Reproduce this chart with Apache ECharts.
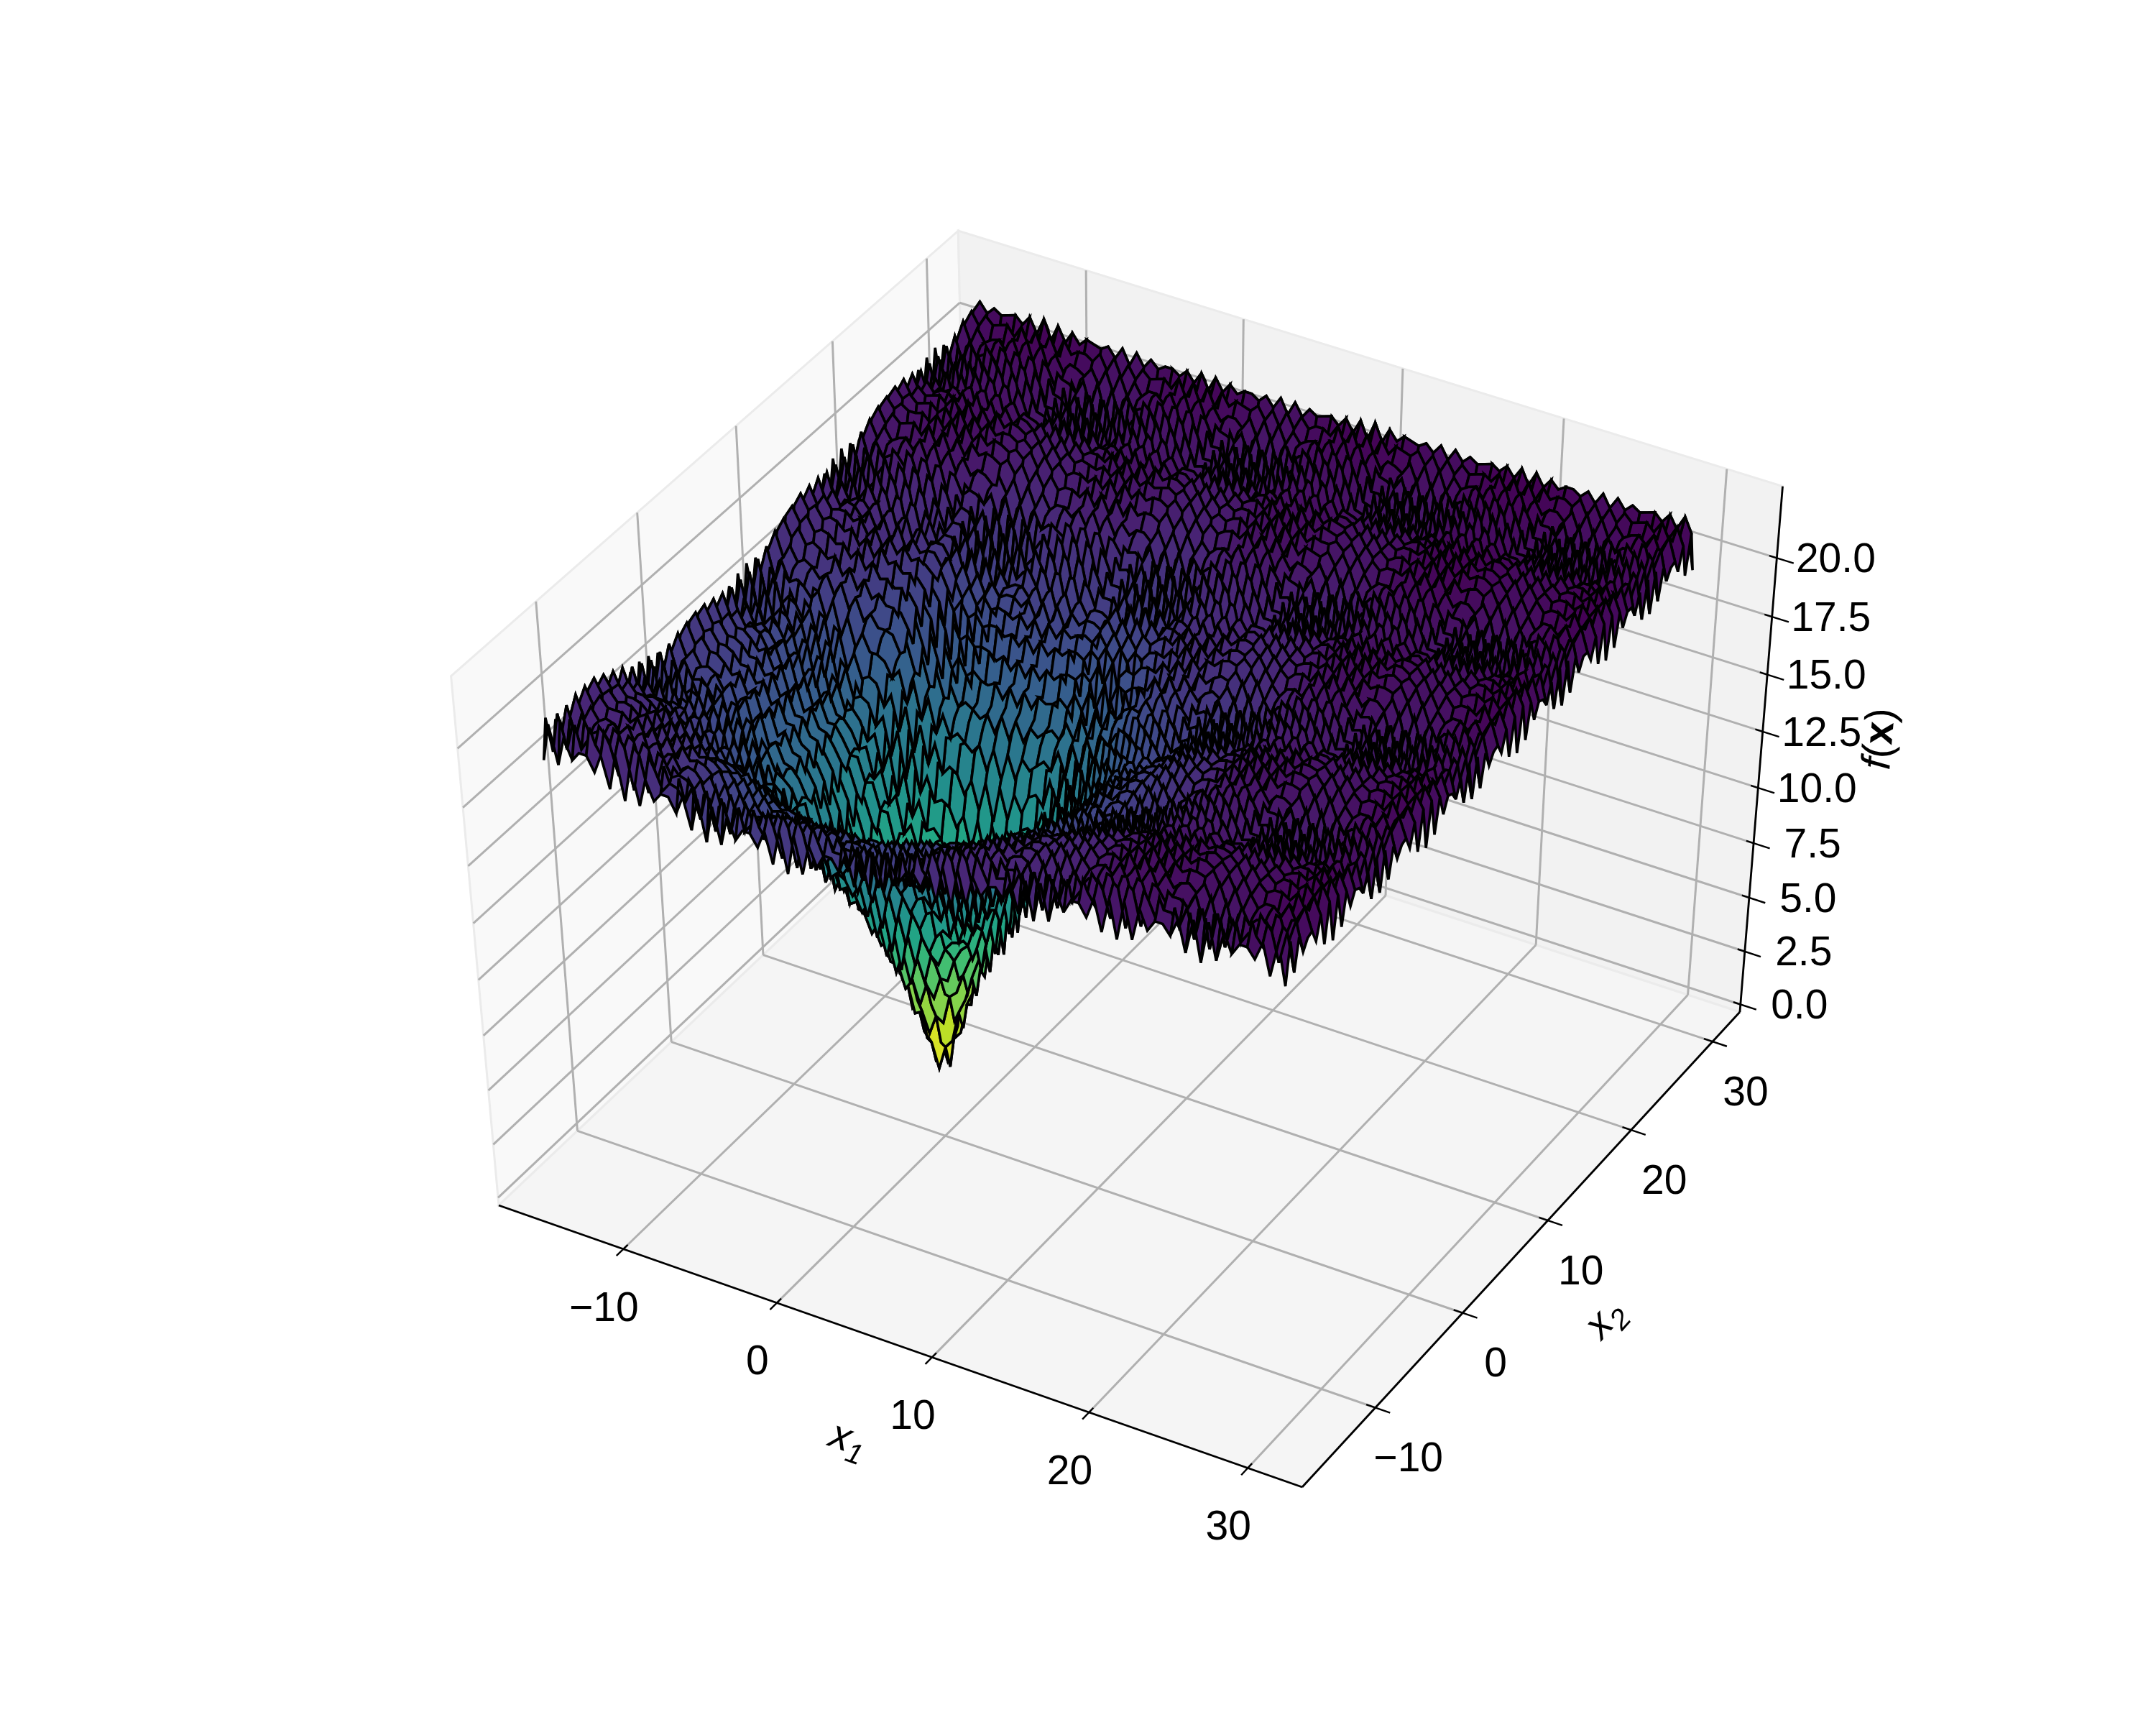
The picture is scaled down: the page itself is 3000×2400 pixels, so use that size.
<!DOCTYPE html>
<html>
<head>
<meta charset="utf-8">
<title>f(x) surface</title>
<style>
  html, body { margin: 0; padding: 0; background: #fff; }
  #main { width: 3000px; height: 2400px; }
</style>
<script src="https://cdn.jsdelivr.net/npm/echarts@6/dist/echarts.min.js"></script>
</head>
<body>
<div id="main"></div>
<script>
var x1Ticks = [-10, 0, 10, 20, 30];
var x2Ticks = [-10, 0, 10, 20, 30];
var zTicks = [0, 2.5, 5, 7.5, 10, 12.5, 15, 17.5, 20];
var x1Range = [-18.2, 33.4];
var x2Range = [-18.2, 33.4];
var zRange = [-0.36, 23];
var viridisStops = ['#440154', '#482475', '#414487', '#355f8d', '#2a788e', '#21918c', '#22a884', '#44bf70', '#7ad151', '#bddf26', '#fde725'];

// sample positions, same on both axes
var gridValues = [
  -15,-14.55,-14.09,-13.64,-13.18,-12.73,-12.27,-11.82,-11.36,-10.91,-10.45,
  -10,-9.55,-9.09,-8.64,-8.18,-7.73,-7.27,-6.82,-6.36,-5.91,-5.45,
  -5,-4.55,-4.09,-3.64,-3.18,-2.73,-2.27,-1.82,-1.36,-0.91,-0.45,
  0,0.45,0.91,1.36,1.82,2.27,2.73,3.18,3.64,4.09,4.55,
  5,5.45,5.91,6.36,6.82,7.27,7.73,8.18,8.64,9.09,9.55,
  10,10.45,10.91,11.36,11.82,12.27,12.73,13.18,13.64,14.09,14.55,
  15,15.45,15.91,16.36,16.82,17.27,17.73,18.18,18.64,19.09,19.55,
  20,20.45,20.91,21.36,21.82,22.27,22.73,23.18,23.64,24.09,24.55,
  25,25.45,25.91,26.36,26.82,27.27,27.73,28.18,28.64,29.09,29.55,
  30
];

// even i: every j from i to 99. odd i: the even j above i, then j = 99.
var fTenths = [
/*0*/[190,206,190,202,194,198,198,192,200,187,202,
184,200,184,196,188,192,192,186,194,181,195,
178,194,179,192,183,188,188,183,191,178,193,
176,193,178,191,183,189,189,184,193,180,195,
179,196,182,195,188,193,194,189,198,185,201,
185,202,188,201,194,199,200,196,204,192,207,
191,208,193,207,199,205,205,200,209,196,211,
195,212,197,211,203,208,208,204,212,199,214,
197,215,200,213,205,210,210,206,214,201,216,
199],
/*1*/[207,207,208,208,208,206,204,202,199,197,
195,195,195,196,197,198,198,197,196,195,195,
195,197,199,202,204,206,208,208,208,207,207,
207,209,211,213,215,216,217,217,216,214,214,
214,215,216,219,220,221,
216],
/*2*/[193,204,195,200,199,194,201,189,202,
185,201,186,197,189,193,192,187,194,182,195,
179,194,180,191,183,187,187,182,189,177,191,
175,191,177,189,181,187,187,182,190,179,193,
178,194,181,193,186,192,192,188,197,185,200,
185,202,188,201,194,199,200,196,204,193,207,
192,208,195,207,200,205,206,201,209,198,212,
196,213,199,211,204,209,209,204,213,201,215,
199,215,202,214,206,211,211,207,215,203,217,
201],
/*3*/[205,205,206,205,204,202,198,195,191,
188,188,190,191,193,193,193,193,191,190,188,
190,191,195,198,202,204,205,206,205,205,204,
205,206,209,212,214,215,216,216,215,213,212,
212,213,215,218,220,220,
214],
/*4*/[198,200,200,196,202,191,201,
188,200,188,198,191,193,192,189,194,183,193,
180,192,180,190,183,186,185,182,188,178,188,
176,188,178,188,182,185,185,182,189,179,190,
179,192,181,192,187,191,192,189,196,187,198,
188,200,190,201,196,199,200,198,205,195,207,
196,208,198,208,203,207,207,205,211,201,213,
201,213,203,213,208,211,211,208,215,205,216,
204,216,205,216,210,213,213,211,217,207,218,
206],
/*5*/[202,202,202,200,198,194,189,185,
183,183,184,186,188,188,188,188,186,184,183,
183,185,189,194,198,200,202,202,202,200,200,
200,203,205,209,212,213,214,214,213,210,208,
208,210,212,215,218,219,
210],
/*6*/[201,197,202,194,201,
191,199,190,196,190,193,192,188,192,184,191,
181,189,181,187,182,184,184,181,185,178,186,
177,186,178,185,180,184,184,181,186,180,189,
181,190,183,191,187,191,192,190,196,190,199,
191,201,194,202,198,201,202,200,206,200,208,
200,210,202,210,206,209,210,207,213,206,214,
205,215,207,215,210,213,214,211,216,209,218,
209,218,210,218,213,216,216,213,219,212,220,
211],
/*7*/[199,198,196,193,188,183,177,
174,174,176,178,181,182,182,181,178,176,174,
174,177,183,188,193,196,198,199,197,196,193,
194,196,202,206,209,211,212,212,209,207,203,
203,204,209,212,215,217,
205],
/*8*/[202,195,200,
192,198,191,196,191,192,191,188,191,184,189,
181,187,180,186,181,182,182,179,183,177,182,
175,182,177,183,179,181,181,180,184,179,186,
180,188,183,190,187,190,191,190,195,190,197,
192,200,194,201,198,201,202,201,206,201,208,
202,209,204,211,207,210,211,209,214,208,215,
208,215,210,216,213,215,215,214,218,212,218,
212,219,213,219,216,218,218,216,220,214,221,
214],
/*9*/[194,192,188,183,176,170,
166,165,168,172,175,176,176,175,172,168,165,
166,170,176,183,188,192,194,195,194,190,188,
188,191,197,203,207,210,210,209,207,202,199,
197,200,204,210,213,215,
200],
/*10*/[198,
191,196,190,193,189,190,189,186,187,182,186,
179,184,178,181,178,179,178,176,178,174,178,
172,178,174,178,175,178,178,176,180,177,183,
178,185,181,186,185,188,189,188,192,189,196,
191,198,194,199,197,200,201,200,204,201,207,
202,209,205,210,207,210,211,209,213,210,215,
209,216,211,216,213,216,216,214,218,214,219,
213,220,215,219,216,219,219,217,220,216,222,
216],
/*11*/[189,184,179,171,163,
160,159,162,165,167,169,169,167,165,162,159,
160,163,171,179,184,189,191,192,191,188,185,
184,188,195,201,205,208,209,208,206,201,197,
195,198,203,209,212,214,
198],
/*12*/[193,187,190,185,186,185,182,183,178,182,
174,179,173,176,172,173,173,170,172,167,172,
165,172,167,172,169,172,173,171,175,172,178,
174,181,177,182,180,184,185,184,189,187,193,
189,196,192,197,196,199,200,199,203,200,206,
201,208,204,209,207,209,210,209,212,209,215,
209,215,211,215,213,215,216,214,217,214,219,
213,219,215,219,216,218,219,217,220,216,221,
215],
/*13*/[182,176,168,162,
157,156,157,160,161,163,163,161,160,157,156,
157,162,168,176,182,187,190,191,190,187,186,
186,189,195,202,206,209,210,209,206,202,199,
197,199,204,209,213,215,
200],
/*14*/[186,181,181,180,177,179,172,176,
167,172,164,169,163,164,163,160,164,157,163,
156,163,158,164,161,164,165,164,169,164,172,
167,175,170,178,175,179,180,180,185,181,188,
183,192,187,195,192,195,197,196,201,196,203,
198,206,201,208,205,208,209,207,212,207,213,
206,214,209,215,212,214,214,213,217,211,218,
211,218,212,219,215,217,217,215,220,214,220,
213],
/*15*/[175,168,160,
155,153,155,155,156,156,156,156,155,155,153,
155,160,168,175,181,185,188,190,190,190,188,
189,192,198,203,208,209,210,210,208,206,202,
202,203,208,211,215,216,
205],
/*16*/[176,174,169,172,163,169,
157,164,154,160,153,155,154,150,155,147,154,
145,155,147,155,151,155,156,154,160,155,164,
157,168,162,171,168,173,175,174,181,176,186,
179,189,183,192,188,192,194,192,198,192,202,
194,204,197,205,201,205,206,204,210,203,212,
203,212,205,213,208,212,212,209,215,208,216,
207,217,209,216,212,215,215,212,217,211,219,
210],
/*17*/[166,160,
155,151,150,150,150,150,150,150,150,150,151,
155,160,166,174,180,185,188,190,192,192,192,
194,196,200,205,209,211,212,212,211,208,207,
207,208,211,214,217,218,
209],
/*18*/[161,165,152,161,
146,156,143,151,143,145,143,139,144,133,143,
131,144,133,144,139,144,145,143,151,143,156,
146,160,151,163,160,165,167,166,174,166,180,
170,184,175,187,183,187,189,187,195,186,198,
188,201,191,202,197,201,202,200,207,198,209,
198,210,200,210,205,208,209,206,213,203,214,
202,215,204,214,208,212,212,209,215,205,217,
205],
/*19*/[157,
151,147,145,144,143,141,141,143,144,145,147,
151,157,164,172,179,182,186,190,192,193,194,
195,198,202,206,210,211,212,213,212,211,210,
210,211,214,216,219,219,
212],
/*20*/[142,154,
135,148,132,142,131,134,132,126,132,119,132,
116,133,120,133,127,134,136,132,142,132,148,
135,153,142,157,151,158,161,158,169,159,177,
163,181,169,183,177,184,186,182,192,181,196,
182,199,186,199,192,199,200,196,205,193,208,
192,209,195,208,201,206,207,202,210,199,213,
197,213,200,212,204,209,210,205,213,201,215,
199],
/*21*/[147,142,137,135,132,131,131,132,135,137,142,
147,154,161,169,176,182,186,188,191,193,194,
196,200,203,207,210,212,213,213,213,212,212,
211,213,215,217,219,220,
214],
/*22*/[127,141,123,133,122,124,122,115,121,106,119,
102,120,107,122,116,124,126,123,134,123,141,
127,147,135,151,146,154,157,155,165,155,174,
160,179,166,181,175,182,184,180,190,179,195,
179,197,183,198,191,197,198,194,203,191,206,
190,207,193,207,199,205,205,201,209,197,212,
195,212,198,211,203,208,209,204,212,199,214,
198],
/*23*/[135,128,124,120,119,119,120,124,128,135,
141,148,156,165,172,179,184,187,189,191,193,
196,199,202,206,209,212,213,213,213,212,212,
211,213,214,217,218,220,
214],
/*24*/[116,124,112,114,110,102,108,94,107,
90,107,94,108,102,110,114,112,124,116,135,
123,142,132,147,142,151,154,152,163,155,172,
159,178,166,180,174,181,184,180,190,180,195,
180,197,185,198,191,197,198,194,203,192,207,
191,208,195,207,200,205,206,201,210,198,213,
197,213,199,212,204,209,209,205,213,201,215,
200],
/*25*/[117,111,107,103,103,107,111,117,124,
131,142,151,160,169,175,181,185,187,189,191,
193,197,201,205,209,211,212,213,212,211,210,
209,211,213,216,218,219,
212],
/*26*/[106,105,101,93,96,83,93,
80,93,83,96,93,101,105,106,117,112,128,
121,137,130,144,142,149,152,153,162,156,171,
162,176,168,180,176,182,184,183,191,183,195,
185,198,188,199,194,198,199,197,204,195,207,
196,209,198,209,203,207,207,205,211,202,213,
201,214,203,214,208,211,211,209,215,205,216,
205],
/*27*/[97,90,86,86,90,97,105,114,
123,134,145,155,165,172,178,182,184,185,187,
189,193,197,202,206,209,211,211,210,208,207,
206,208,210,214,216,218,
209],
/*28*/[92,82,82,72,77,
67,77,72,82,82,92,98,101,111,110,124,
121,135,132,143,142,149,153,154,162,159,171,
166,178,172,181,178,184,186,185,192,187,196,
189,199,192,200,196,200,202,200,206,200,209,
201,210,203,211,206,210,210,208,213,206,215,
206,216,208,215,211,214,214,211,217,210,218,
210],
/*29*/[73,66,66,73,82,93,102,
113,124,139,150,161,168,175,179,181,181,181,
183,187,194,199,204,207,209,209,207,205,202,
201,203,207,211,214,216,
204],
/*30*/[70,57,59,
50,59,57,70,73,82,90,96,107,108,120,
119,132,131,142,143,149,153,155,163,161,171,
167,177,174,182,181,185,187,187,193,189,197,
191,200,195,202,199,202,203,203,208,203,210,
204,211,206,213,209,212,212,211,215,209,216,
209,217,211,217,214,216,216,214,219,213,219,
213],
/*31*/[45,45,57,72,84,94,
105,119,133,146,157,166,173,177,178,177,177,
178,183,190,197,202,206,208,207,205,201,198,
196,199,203,209,212,215,
199],
/*32*/[41,
30,41,45,59,66,77,86,93,104,107,119,
119,132,132,141,143,150,154,156,163,163,171,
169,178,176,182,182,186,188,188,193,191,198,
193,201,197,202,200,203,204,204,208,205,211,
206,212,208,213,210,213,213,212,215,211,217,
211,218,213,217,215,217,217,215,219,215,220,
215],
/*33*/[30,50,67,80,90,
102,116,131,145,156,165,172,175,177,176,175,
176,181,189,196,201,205,207,206,204,200,196,
194,197,202,208,211,214,
197],
/*34*/[41,45,59,66,77,86,93,104,107,119,
119,132,132,141,143,150,154,156,163,163,171,
169,178,176,182,182,186,188,188,193,191,198,
193,201,197,202,200,203,204,204,208,205,211,
206,212,208,213,210,213,213,212,215,211,217,
211,218,213,217,215,217,217,215,219,215,220,
215],
/*35*/[57,72,84,94,
105,119,133,146,157,166,173,177,178,177,177,
178,183,190,197,202,206,208,207,205,201,198,
196,199,203,209,212,215,
199],
/*36*/[70,73,82,90,96,107,108,120,
119,132,131,142,143,149,153,155,163,161,171,
167,177,174,182,181,185,187,187,193,189,197,
191,200,195,202,199,202,203,203,208,203,210,
204,211,206,213,209,212,212,211,215,209,216,
209,217,211,217,214,216,216,214,219,213,219,
213],
/*37*/[82,93,102,
113,124,139,150,161,168,175,179,181,181,181,
183,187,194,199,204,207,209,209,207,205,202,
201,203,207,211,214,216,
204],
/*38*/[92,98,101,111,110,124,
121,135,132,143,142,149,153,154,162,159,171,
166,178,172,181,178,184,186,185,192,187,196,
189,199,192,200,196,200,202,200,206,200,209,
201,210,203,211,206,210,210,208,213,206,215,
206,216,208,215,211,214,214,211,217,210,218,
210],
/*39*/[105,114,
123,134,145,155,165,172,178,182,184,185,187,
189,193,197,202,206,209,211,211,210,208,207,
206,208,210,214,216,218,
209],
/*40*/[106,117,112,128,
121,137,130,144,142,149,152,153,162,156,171,
162,176,168,180,176,182,184,183,191,183,195,
185,198,188,199,194,198,199,197,204,195,207,
196,209,198,209,203,207,207,205,211,202,213,
201,214,203,214,208,211,211,209,215,205,216,
205],
/*41*/[124,
131,142,151,160,169,175,181,185,187,189,191,
193,197,201,205,209,211,212,213,212,211,210,
209,211,213,216,218,219,
212],
/*42*/[116,135,
123,142,132,147,142,151,154,152,163,155,172,
159,178,166,180,174,181,184,180,190,180,195,
180,197,185,198,191,197,198,194,203,192,207,
191,208,195,207,200,205,206,201,210,198,213,
197,213,199,212,204,209,209,205,213,201,215,
200],
/*43*/[141,148,156,165,172,179,184,187,189,191,193,
196,199,202,206,209,212,213,213,213,212,212,
211,213,214,217,218,220,
214],
/*44*/[127,148,135,151,146,155,157,155,167,157,174,
160,179,166,181,175,182,184,180,190,179,195,
179,197,183,198,191,197,198,194,203,191,206,
190,207,193,207,199,205,205,201,209,197,212,
195,212,198,211,203,208,209,204,212,199,214,
198],
/*45*/[154,161,169,176,182,186,188,191,193,194,
196,200,203,207,210,212,213,213,213,212,212,
211,213,215,217,219,220,
214],
/*46*/[142,158,152,160,163,161,171,162,178,
163,181,169,183,177,184,186,182,192,181,196,
182,199,186,199,192,199,200,196,205,193,208,
192,209,195,208,201,206,207,202,210,199,213,
197,213,200,212,204,209,210,205,213,201,215,
199],
/*47*/[164,172,179,182,186,190,192,193,194,
195,198,202,206,210,211,212,213,212,211,210,
210,211,214,216,219,219,
212],
/*48*/[161,167,169,168,177,168,181,
170,184,175,187,183,187,189,187,195,186,198,
188,201,191,202,197,201,202,200,207,198,209,
198,210,200,210,205,208,209,206,213,203,214,
202,215,204,214,208,212,212,209,215,205,217,
205],
/*49*/[174,180,185,188,190,192,192,192,
194,196,200,205,209,211,212,212,211,208,207,
207,208,211,214,217,218,
209],
/*50*/[176,175,181,176,186,
179,189,183,192,188,192,194,192,198,192,202,
194,204,197,205,201,205,206,204,210,203,212,
203,212,205,213,208,212,212,209,215,208,216,
207,217,209,216,212,215,215,212,217,211,219,
210],
/*51*/[181,185,188,190,190,190,188,
189,192,198,203,208,209,210,210,208,206,202,
202,203,208,211,215,216,
205],
/*52*/[187,182,190,
183,192,187,195,192,195,197,196,201,196,203,
198,206,201,208,205,208,209,207,212,207,213,
206,214,209,215,212,214,214,213,217,211,218,
211,218,212,219,215,217,217,215,220,214,220,
213],
/*53*/[187,190,191,190,187,186,
186,189,195,202,206,209,210,209,206,202,199,
197,199,204,209,213,215,
200],
/*54*/[193,
189,196,192,197,196,199,200,199,203,200,206,
201,208,204,209,207,209,210,209,212,209,215,
209,215,211,215,213,215,216,214,217,214,219,
213,219,215,219,216,218,219,217,220,216,221,
215],
/*55*/[191,192,191,188,185,
184,188,195,201,205,208,209,208,206,201,197,
195,198,203,209,212,214,
198],
/*56*/[198,194,199,197,200,201,200,204,201,207,
202,209,205,210,207,210,211,209,213,210,215,
209,216,211,216,213,216,216,214,218,214,219,
213,220,215,219,216,219,219,217,220,216,222,
216],
/*57*/[195,194,190,188,
188,191,197,203,207,210,210,209,207,202,199,
197,200,204,210,213,215,
200],
/*58*/[201,198,201,202,201,206,201,208,
202,209,204,211,207,210,211,209,214,208,215,
208,215,210,216,213,215,215,214,218,212,218,
212,219,213,219,216,218,218,216,220,214,221,
214],
/*59*/[197,196,193,
194,196,202,206,209,211,212,212,209,207,203,
203,204,209,212,215,217,
205],
/*60*/[201,202,200,206,200,208,
200,210,202,210,206,209,210,207,213,206,214,
205,215,207,215,210,213,214,211,216,209,218,
209,218,210,218,213,216,216,213,219,212,220,
211],
/*61*/[200,200,
200,203,205,209,212,213,214,214,213,210,208,
208,210,212,215,218,219,
210],
/*62*/[198,205,195,207,
196,208,198,208,203,207,207,205,211,201,213,
201,213,203,213,208,211,211,208,215,205,216,
204,216,205,216,210,213,213,211,217,207,218,
206],
/*63*/[204,
205,206,209,212,214,215,216,216,215,213,212,
212,213,215,218,220,220,
214],
/*64*/[193,207,
192,208,195,207,200,205,206,201,209,198,212,
196,213,199,211,204,209,209,204,213,201,215,
199,215,202,214,206,211,211,207,215,203,217,
201],
/*65*/[207,209,211,213,215,216,217,217,216,214,214,
214,215,216,219,220,221,
216],
/*66*/[191,208,193,207,199,205,205,200,209,196,211,
195,212,197,211,203,208,208,204,212,199,214,
197,215,200,213,205,210,210,206,214,201,216,
199],
/*67*/[210,212,214,216,217,218,217,216,215,214,
214,215,216,219,220,221,
216],
/*68*/[196,208,201,206,206,202,210,198,213,
197,213,199,212,204,209,209,205,213,201,215,
199,215,202,214,206,211,211,206,215,203,217,
201],
/*69*/[211,214,216,217,217,217,216,214,212,
212,213,216,218,220,220,
214],
/*70*/[205,209,209,206,213,203,214,
202,215,204,214,208,212,212,209,215,205,216,
205,217,206,216,210,213,214,211,217,207,218,
206],
/*71*/[212,215,216,217,216,214,212,210,
209,210,213,216,218,219,
211],
/*72*/[212,210,215,208,217,
208,217,209,217,212,215,215,212,217,211,219,
210,219,211,218,213,217,217,214,219,212,220,
211],
/*73*/[214,215,216,215,212,209,205,
205,206,210,213,217,218,
206],
/*74*/[218,212,218,
212,219,213,219,215,217,218,216,220,214,220,
213,220,214,221,217,219,219,217,221,215,221,
214],
/*75*/[215,215,214,211,206,202,
200,202,207,212,215,217,
201],
/*76*/[220,
214,220,216,220,217,219,219,217,220,216,222,
216,222,217,221,218,220,220,218,221,217,222,
216],
/*77*/[215,213,210,205,200,
199,201,206,211,214,216,
199],
/*78*/[221,216,220,217,219,219,217,220,216,222,
216,222,217,221,218,220,220,218,221,217,222,
216],
/*79*/[215,212,207,203,
201,203,207,212,215,217,
201],
/*80*/[220,216,219,219,217,221,215,221,
214,221,215,221,217,219,219,217,221,215,221,
214],
/*81*/[214,211,207,
206,207,211,214,217,218,
206],
/*82*/[217,217,214,219,212,220,
211,220,212,219,214,217,217,214,219,212,220,
211],
/*83*/[214,212,
211,212,214,217,219,220,
211],
/*84*/[211,217,207,218,
206,218,207,217,211,214,214,211,217,207,218,
206],
/*85*/[215,
214,215,217,219,221,221,
214],
/*86*/[203,217,
201,217,203,215,207,212,212,207,215,203,217,
201],
/*87*/[216,217,218,220,221,222,
216],
/*88*/[200,217,202,215,207,212,212,207,215,202,217,
200],
/*89*/[217,218,220,221,222,
216],
/*90*/[204,216,208,213,213,208,216,204,218,
202],
/*91*/[217,219,221,221,
214],
/*92*/[212,215,215,212,218,208,219,
207],
/*93*/[217,219,220,
211],
/*94*/[218,215,220,213,221,
212],
/*95*/[217,218,
206],
/*96*/[222,216,222,
215],
/*97*/[217,
201],
/*98*/[223,
217],
/*99*/[200]
];

// view plane: camera fitted to the box corners of the picture
function project(s, t, p) {
  var w = 1 - 0.02851 * s + 0.0601 * t - 0.069 * p;
  return [
    (694 + 1066.3 * s + 737.1 * t - 109.7 * p) / w,
    (1677 + 333 * s - 557.5 * t - 801.2 * p) / w,
    w
  ];
}
function norm(v, r) { return (v - r[0]) / (r[1] - r[0]); }

function fAt(i, j) {
  if (i > j) { var k = i; i = j; j = k; }
  var row = fTenths[i], v;
  if (i % 2 === 0) v = row[j - i];
  else if (i === 99) v = row[0];
  else if (j === 99) v = row[row.length - 1];
  else v = row[(j - i - 1) / 2];
  return v / 10;
}
function surfacePoint(i, j) {
  return project(norm(gridValues[i], x1Range), norm(gridValues[j], x2Range), norm(fAt(i, j), zRange));
}

// wire lines fall on every second sample plus the last one
var lineIdx = [];
for (var n = 0; n < 100; n += 2) lineIdx.push(n);
lineIdx.push(99);

var faces = [];
var fMin = Infinity, fMax = -Infinity;
for (var a = 0; a < lineIdx.length - 1; a++) {
  for (var b = 0; b < lineIdx.length - 1; b++) {
    var i0 = lineIdx[a], i1 = lineIdx[a + 1], j0 = lineIdx[b], j1 = lineIdx[b + 1];
    var ring = [], q;
    for (q = j0; q < j1; q++) ring.push([i0, q]);
    for (q = i0; q < i1; q++) ring.push([q, j1]);
    for (q = j1; q > j0; q--) ring.push([i1, q]);
    for (q = i1; q > i0; q--) ring.push([q, j0]);
    var sum = 0, depth = 0;
    var pts = ring.map(function (r) {
      sum += fAt(r[0], r[1]);
      var pr = surfacePoint(r[0], r[1]);
      depth += pr[2];
      return pr;
    });
    var avg = sum / ring.length;
    fMin = Math.min(fMin, avg);
    fMax = Math.max(fMax, avg);
    faces.push({ pts: pts, avg: avg, depth: depth / ring.length });
  }
}
// painter's order, far faces first
faces.sort(function (p, q) { return q.depth - p.depth; });

function faceColor(avg) {
  return echarts.color.lerp(1 - (avg - fMin) / (fMax - fMin), viridisStops);
}
function renderFace(params, api) {
  var f = faces[api.value(0)];
  return {
    type: 'polygon',
    shape: { points: f.pts.map(function (q) { return api.coord(q); }) },
    style: { fill: faceColor(f.avg), stroke: '#000', lineWidth: 3.6, lineJoin: 'miter', miterLimit: 4 }
  };
}

function line(api, a, b, color, width) {
  var p0 = api.coord(a), p1 = api.coord(b);
  return {
    type: 'line',
    shape: { x1: p0[0], y1: p0[1], x2: p1[0], y2: p1[1] },
    style: { stroke: color, lineWidth: width, fill: null }
  };
}
function pane(api, pts, color) {
  return {
    type: 'polygon',
    shape: { points: pts.map(function (q) { return api.coord(project(q[0], q[1], q[2])); }) },
    style: { fill: color, stroke: '#ebebeb', lineWidth: 3 }
  };
}
function label(api, at, dx, dy, text) {
  var c = api.coord(at);
  return {
    type: 'text',
    x: c[0] + dx, y: c[1] + dy,
    style: { text: text, fill: '#000', font: '57px "Liberation Sans"', align: 'center', verticalAlign: 'middle' }
  };
}
function tickText(v) { return String(v).replace('-', '\u2212'); }

function renderBox(params, api) {
  var kids = [];
  var gridColor = '#b0b0b0', gridWidth = 3;
  kids.push(pane(api, [[0, 0, 0], [0, 1, 0], [0, 1, 1], [0, 0, 1]], '#f9f9f9'));
  kids.push(pane(api, [[0, 1, 0], [1, 1, 0], [1, 1, 1], [0, 1, 1]], '#f2f2f2'));
  kids.push(pane(api, [[0, 0, 0], [1, 0, 0], [1, 1, 0], [0, 1, 0]], '#f5f5f5'));
  x1Ticks.forEach(function (v) {
    var s = norm(v, x1Range);
    kids.push(line(api, project(s, 0, 0), project(s, 1, 0), gridColor, gridWidth));
    kids.push(line(api, project(s, 1, 0), project(s, 1, 1), gridColor, gridWidth));
  });
  x2Ticks.forEach(function (v) {
    var t = norm(v, x2Range);
    kids.push(line(api, project(1, t, 0), project(0, t, 0), gridColor, gridWidth));
    kids.push(line(api, project(0, t, 0), project(0, t, 1), gridColor, gridWidth));
  });
  zTicks.forEach(function (v) {
    var p = norm(v, zRange);
    kids.push(line(api, project(1, 1, p), project(0, 1, p), gridColor, gridWidth));
    kids.push(line(api, project(0, 1, p), project(0, 0, p), gridColor, gridWidth));
  });
  kids.push(line(api, project(0, 0, 0), project(1, 0, 0), '#000', 2.8));
  kids.push(line(api, project(1, 0, 0), project(1, 1, 0), '#000', 2.8));
  kids.push(line(api, project(1, 1, 0), project(1, 1, 1), '#000', 2.8));
  x1Ticks.forEach(function (v) {
    var s = norm(v, x1Range);
    kids.push(line(api, project(s, 0.009, 0), project(s, -0.014, 0), '#000', 2.4));
    kids.push(label(api, project(s, 0, 0), -27, 84, tickText(v)));
  });
  x2Ticks.forEach(function (v) {
    var t = norm(v, x2Range);
    kids.push(line(api, project(0.989, t, 0), project(1.018, t, 0), '#000', 2.4));
    kids.push(label(api, project(1, t, 0), 46, 73, tickText(v)));
  });
  zTicks.forEach(function (v) {
    var p = norm(v, zRange);
    kids.push(line(api, project(0.991, 1, p), project(1.02, 1, p), '#000', 2.4));
    kids.push(label(api, project(1, 1, p), 82, 4, v.toFixed(1)));
  });
  function axisName(px, py, rot, text, rich) {
    var c = api.coord([px, py]);
    return {
      type: 'text', x: c[0], y: c[1], rotation: rot,
      style: { text: text, rich: rich, fill: '#000', align: 'center', verticalAlign: 'middle' }
    };
  }
  var subRich = {
    i: { font: 'italic 57px "Liberation Sans"', lineHeight: 74 },
    s: { font: 'italic 40px "Liberation Sans"', lineHeight: 40, verticalAlign: 'bottom' }
  };
  kids.push(axisName(1180, 2004, -0.33, '{i|x}{s|1}', subRich));
  kids.push(axisName(2234, 1836, 0.84, '{i|x}{s|2}', subRich));
  kids.push(axisName(2617, 1028, 1.484, '{i|f}{n|(}{b|x}{n|)}', {
    i: { font: 'italic 57px "Liberation Sans"' },
    n: { font: '57px "Liberation Sans"' },
    b: { font: 'bold 57px "Liberation Sans"' }
  }));
  return { type: 'group', children: kids };
}

var chart = echarts.init(document.getElementById('main'), null, { renderer: 'canvas' });
chart.setOption({
  animation: false,
  grid: { left: 0, right: 0, top: 0, bottom: 0 },
  xAxis: { type: 'value', min: 0, max: 3000, show: false },
  yAxis: { type: 'value', min: 0, max: 2400, inverse: true, show: false },
  series: [
    { type: 'custom', name: 'box', silent: true, clip: false, data: [[0, 0]], renderItem: renderBox },
    {
      type: 'custom', name: 'f(x)', silent: true, clip: false, progressive: 0,
      data: faces.map(function (f, idx) { return [idx, 0]; }),
      renderItem: renderFace
    }
  ]
});
</script>
</body>
</html>
